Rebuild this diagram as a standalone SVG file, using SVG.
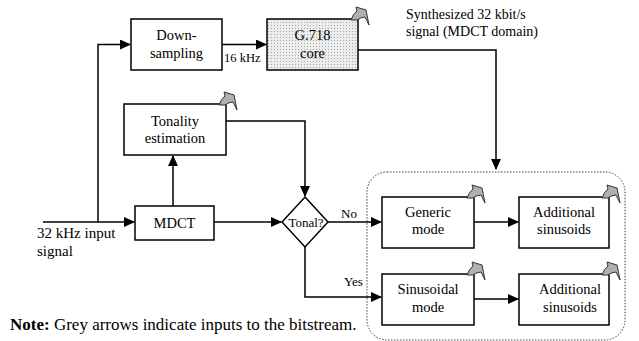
<svg xmlns="http://www.w3.org/2000/svg" width="639" height="341" viewBox="0 0 639 341">
<defs>
<style>
text{font-family:'Liberation Serif','Times New Roman','DejaVu Serif',serif}
.box{fill:#fff;stroke:#000;stroke-width:1.5}
.t{font-size:14.5px;fill:#000;text-anchor:middle}
.l{font-size:14px;fill:#000}
.c{fill:none;stroke:#000;stroke-width:1.5}
.g{fill:#b0b0b0;stroke:#333;stroke-width:1;stroke-linejoin:round}
</style>
<pattern id="dots" width="3" height="3" patternUnits="userSpaceOnUse">
<rect width="3" height="3" fill="#ececec"/>
<rect x="1" y="1" width="1" height="1" fill="#a8a8a8"/>
</pattern>
<marker id="ah" markerWidth="11" markerHeight="10" refX="10" refY="5" orient="auto" markerUnits="userSpaceOnUse">
<path d="M0,0 L11,5 L0,10 Z" fill="#000"/>
</marker>
<path id="ga" class="g" d="M-7,1 Q-5,-5 -1,-8 L-2,-12 L8,-9 L11,6 L7,-2 Q3,-2 -1,1 Z"/>
</defs>

<rect x="367" y="172" width="258" height="168" rx="20" fill="none" stroke="#444" stroke-width="1" stroke-dasharray="1.5 1.5"/>

<g id="connectors">
<path class="c" d="M43,222 L134,222" marker-end="url(#ah)"/>
<path class="c" d="M98,222 L98,44.5 L130,44.5" marker-end="url(#ah)"/>
<path class="c" d="M222,44.5 L266,44.5" marker-end="url(#ah)"/>
<path class="c" d="M358,50 L496,50 L496,169" marker-end="url(#ah)"/>
<path class="c" d="M173,206 L173,156" marker-end="url(#ah)"/>
<path class="c" d="M226,121 L305,121 L305,196" marker-end="url(#ah)"/>
<path class="c" d="M214,222 L281,222" marker-end="url(#ah)"/>
<path class="c" d="M328,222 L381,222" marker-end="url(#ah)"/>
<path class="c" d="M305,247 L305,297 L381,297" marker-end="url(#ah)"/>
<path class="c" d="M474,222 L518,222" marker-end="url(#ah)"/>
<path class="c" d="M474,299 L518,299" marker-end="url(#ah)"/>
</g>

<g id="labels">
<text class="l" x="224" y="62" style="font-size:12.5px">16 kHz</text>
<text class="l" x="406" y="19">Synthesized 32 kbit/s</text>
<text class="l" x="406" y="36">signal (MDCT domain)</text>
<text class="l" x="37" y="238" style="font-size:15px">32 kHz input</text>
<text class="l" x="37" y="256" style="font-size:15px">signal</text>
<text class="l" x="341" y="218" style="font-size:13px">No</text>
<text class="l" x="344" y="286" style="font-size:13px">Yes</text>
<text class="l" x="10" y="330" style="font-size:17px"><tspan font-weight="bold">Note:</tspan> Grey arrows indicate inputs to the bitstream.</text>
</g>

<g id="downsampling">
<rect class="box" x="131" y="19" width="91" height="51"/>
<text class="t" x="176.5" y="40">Down-</text>
<text class="t" x="176.5" y="58">sampling</text>
</g>

<g id="g718">
<rect x="267" y="19" width="91" height="51" fill="url(#dots)" stroke="#000" stroke-width="1.5"/>
<text class="t" x="312.5" y="40">G.718</text>
<text class="t" x="312.5" y="58">core</text>
<use href="#ga" transform="translate(358,19)"/>
</g>

<g id="tonality">
<rect class="box" x="124" y="104" width="102" height="51"/>
<text class="t" x="175" y="126">Tonality</text>
<text class="t" x="175" y="143">estimation</text>
<use href="#ga" transform="translate(226,104)"/>
</g>

<g id="mdct">
<rect class="box" x="135" y="206" width="79" height="34"/>
<text class="t" x="174.5" y="227.5">MDCT</text>
</g>

<g id="tonal">
<path class="box" d="M305,197 L328,222 L305,247 L282,222 Z"/>
<text class="t" x="306" y="226.5" style="font-size:13px">Tonal?</text>
</g>

<g id="generic">
<rect class="box" x="382" y="197" width="92" height="51"/>
<text class="t" x="428" y="217">Generic</text>
<text class="t" x="428" y="234">mode</text>
<use href="#ga" transform="translate(474,197)"/>
</g>

<g id="additional1">
<rect class="box" x="519" y="197" width="90" height="51"/>
<text class="t" x="564" y="217">Additional</text>
<text class="t" x="564" y="234">sinusoids</text>
<use href="#ga" transform="translate(609,197)"/>
</g>

<g id="sinusoidal">
<rect class="box" x="382" y="274" width="92" height="51"/>
<text class="t" x="428" y="294">Sinusoidal</text>
<text class="t" x="428" y="312">mode</text>
<use href="#ga" transform="translate(474,274)"/>
</g>

<g id="additional2">
<rect class="box" x="519" y="274" width="90" height="51"/>
<text class="t" x="570" y="294">Additional</text>
<text class="t" x="570" y="312">sinusoids</text>
<use href="#ga" transform="translate(609,274)"/>
</g>
</svg>
